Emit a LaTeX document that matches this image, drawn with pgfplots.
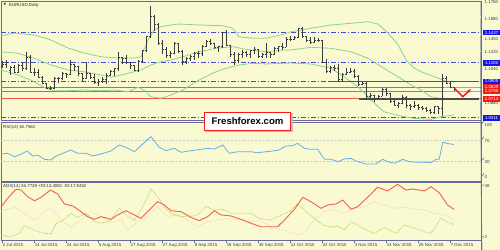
\documentclass[border=0pt]{standalone}
\usepackage{fontspec}
\setmainfont{Liberation Sans}
\newfontfamily\dejavu{DejaVu Sans}
\usepackage{pgfplots}
\pgfplotsset{compat=1.18}
\usepackage{pgfplotstable}
\usetikzlibrary{arrows.meta}

\definecolor{bg}{RGB}{250,250,210}
\definecolor{frame}{RGB}{105,105,160}
\definecolor{lvlblue}{RGB}{70,70,225}
\definecolor{boxblue}{RGB}{20,20,235}
\definecolor{lvlred}{RGB}{240,85,75}
\definecolor{boxred}{RGB}{245,25,25}
\definecolor{band}{RGB}{140,210,140}
\definecolor{barcol}{RGB}{60,60,60}
\definecolor{rsicol}{RGB}{100,175,235}
\definecolor{adxcol}{RGB}{240,95,80}
\definecolor{pdicol}{RGB}{185,205,85}
\definecolor{mdicol}{RGB}{235,215,170}
\definecolor{lbl}{RGB}{60,60,95}

\newcommand\tf{\fontsize{4.4}{5}\selectfont}

\pgfdeclareplotmark{otick}{\pgfpathmoveto{\pgfpoint{-1.5bp}{0pt}}\pgfpathlineto{\pgfpoint{0pt}{0pt}}\pgfusepathqstroke}
\pgfdeclareplotmark{ctick}{\pgfpathmoveto{\pgfpoint{0pt}{0pt}}\pgfpathlineto{\pgfpoint{1.5bp}{0pt}}\pgfusepathqstroke}

\pgfplotstableread{
i o h l c
0 1.1060 1.1120 1.1045 1.1085
1 1.1085 1.1135 1.1050 1.1110
2 1.1020 1.1070 1.0970 1.1055
3 1.1055 1.1075 1.0990 1.1005
4 1.1005 1.1090 1.0990 1.1080
5 1.1080 1.1110 1.1020 1.1040
6 1.1040 1.1215 1.1030 1.1160
7 1.1160 1.1190 1.0995 1.1005
8 1.1005 1.1045 1.0960 1.1003
9 1.1003 1.1035 1.0950 1.0950
10 1.0950 1.0960 1.0870 1.0880
11 1.0880 1.0890 1.0830 1.0830
12 1.0830 1.0855 1.0810 1.0830
13 1.0830 1.0945 1.0820 1.0935
14 1.0935 1.0945 1.0885 1.0930
15 1.0930 1.1000 1.0915 1.0985
16 1.0985 1.0990 1.0940 1.0980
17 1.0980 1.1130 1.0970 1.1085
18 1.1085 1.1095 1.1015 1.1060
19 1.1060 1.1065 1.0960 1.0990
20 1.0990 1.0995 1.0905 1.0935
21 1.0935 1.1115 1.0930 1.0985
22 1.0985 1.0990 1.0930 1.0950
23 1.0950 1.0980 1.0880 1.0890
24 1.0890 1.0930 1.0855 1.0900
25 1.0900 1.0945 1.0885 1.0925
26 1.0925 1.0990 1.0875 1.0970
27 1.0970 1.1030 1.0960 1.1015
28 1.1015 1.1050 1.0960 1.1040
29 1.1040 1.1215 1.1010 1.1160
30 1.1160 1.1165 1.1095 1.1150
31 1.1150 1.1190 1.1095 1.1105
32 1.1105 1.1115 1.1040 1.1080
33 1.1080 1.1085 1.1015 1.1025
34 1.1025 1.1130 1.1005 1.1120
35 1.1120 1.1245 1.1110 1.1240
36 1.1240 1.1390 1.1220 1.1385
37 1.1385 1.1714 1.1370 1.1610
38 1.1610 1.1615 1.1450 1.1520
39 1.1520 1.1530 1.1300 1.1315
40 1.1315 1.1345 1.1200 1.1245
41 1.1245 1.1270 1.1155 1.1185
42 1.1185 1.1230 1.1160 1.1210
43 1.1210 1.1330 1.1200 1.1315
44 1.1315 1.1320 1.1210 1.1230
45 1.1230 1.1245 1.1085 1.1115
46 1.1115 1.1165 1.1090 1.1150
47 1.1150 1.1185 1.1120 1.1170
48 1.1170 1.1225 1.1135 1.1200
49 1.1200 1.1230 1.1150 1.1205
50 1.1205 1.1300 1.1180 1.1280
51 1.1280 1.1345 1.1270 1.1340
52 1.1340 1.1365 1.1300 1.1315
53 1.1315 1.1320 1.1250 1.1265
54 1.1265 1.1290 1.1220 1.1285
55 1.1285 1.1440 1.1260 1.1430
56 1.1430 1.1460 1.1290 1.1295
57 1.1295 1.1300 1.1170 1.1195
58 1.1195 1.1225 1.1085 1.1130
59 1.1130 1.1210 1.1105 1.1190
60 1.1190 1.1240 1.1150 1.1215
61 1.1215 1.1230 1.1170 1.1195
62 1.1195 1.1240 1.1160 1.1235
63 1.1235 1.1275 1.1200 1.1250
64 1.1250 1.1255 1.1160 1.1175
65 1.1175 1.1210 1.1150 1.1195
66 1.1195 1.1315 1.1150 1.1215
67 1.1215 1.1225 1.1150 1.1195
68 1.1195 1.1270 1.1185 1.1260
69 1.1260 1.1290 1.1225 1.1280
70 1.1280 1.1320 1.1245 1.1275
71 1.1275 1.1385 1.1270 1.1360
72 1.1360 1.1390 1.1340 1.1355
73 1.1355 1.1395 1.1350 1.1375
74 1.1375 1.1480 1.1370 1.1470
75 1.1470 1.1495 1.1380 1.1385
76 1.1385 1.1395 1.1330 1.1350
77 1.1350 1.1385 1.1305 1.1320
78 1.1320 1.1380 1.1315 1.1345
79 1.1345 1.1370 1.1325 1.1345
80 1.1345 1.1355 1.1105 1.1110
81 1.1110 1.1140 1.0995 1.1015
82 1.1015 1.1065 1.0990 1.1050
83 1.1050 1.1080 1.1020 1.1045
84 1.1045 1.1095 1.0895 1.0925
85 1.0925 1.0990 1.0900 1.0980
86 1.0980 1.1045 1.0975 1.1005
87 1.1005 1.1045 1.0990 1.1015
88 1.1015 1.1035 1.0945 1.0955
89 1.0955 1.0970 1.0850 1.0865
90 1.0865 1.0910 1.0860 1.0880
91 1.0880 1.0900 1.0705 1.0740
92 1.0740 1.0780 1.0705 1.0750
93 1.0750 1.0755 1.0675 1.0720
94 1.0720 1.0760 1.0715 1.0745
95 1.0745 1.0835 1.0740 1.0815
96 1.0815 1.0830 1.0745 1.0770
97 1.0770 1.0775 1.0675 1.0685
98 1.0685 1.0715 1.0635 1.0645
99 1.0645 1.0685 1.0615 1.0660
100 1.0660 1.0760 1.0655 1.0735
101 1.0735 1.0750 1.0620 1.0645
102 1.0645 1.0655 1.0590 1.0635
103 1.0635 1.0690 1.0615 1.0645
104 1.0645 1.0655 1.0590 1.0625
105 1.0625 1.0640 1.0595 1.0610
106 1.0610 1.0625 1.0570 1.0590
107 1.0590 1.0605 1.0555 1.0565
108 1.0565 1.0640 1.0555 1.0630
109 1.0630 1.0635 1.0550 1.0610
110 1.0610 1.0985 1.0525 1.0940
111 1.0940 1.0960 1.0870 1.0880
112 1.0880 1.0905 1.0830 1.0840
113 1.0840 1.0845 1.0795 1.0820
}\bars

\pgfplotstableread{
x y
-0.25 1.1393
3 1.1425
8 1.1404
12.25 1.1350
16.5 1.1263
20.5 1.1209
24.75 1.1169
29 1.1155
33 1.1155
34.75 1.1169
36.5 1.1350
38 1.1458
39.75 1.1493
42.25 1.1512
44.25 1.1522
49.25 1.1512
55.25 1.1504
57.75 1.1476
59.25 1.1385
62.75 1.1368
66 1.1368
69.75 1.1404
72.25 1.1439
77.25 1.1476
82.25 1.1512
87.25 1.1530
91.5 1.1547
94 1.1522
96.5 1.1425
99 1.1300
101 1.1134
103 1.1047
104.75 1.1007
109 1.0939
111 1.0901
113 1.0895
}\bbup

\pgfplotstableread{
x y
-0.25 1.1223
4 1.1206
8 1.1152
12.25 1.1080
16.5 1.1026
20.5 1.1007
24.75 1.0972
27.25 1.0947
29.75 1.0972
33 1.1007
34.75 1.1026
37.25 1.1080
39.75 1.1115
42.25 1.1134
45.25 1.1169
49.25 1.1223
53.5 1.1260
57.75 1.1277
61.75 1.1242
66 1.1223
70.25 1.1242
72.25 1.1242
77.25 1.1271
82.25 1.1260
87.25 1.1223
91.5 1.1152
95.5 1.1044
99 1.0953
102.25 1.0864
104.75 1.0810
107.25 1.0737
111 1.0709
113 1.0709
}\bbmid

\pgfplotstableread{
x y
-0.25 1.1026
4 1.0972
8 1.0901
10.5 1.0839
13 1.0802
16.5 1.0802
20.5 1.0810
24.75 1.0802
28 1.0810
31.5 1.0791
34 1.0839
35.5 1.0810
37.25 1.0737
39.75 1.0720
42.25 1.0756
45.25 1.0810
49.25 1.0918
53.5 1.1007
56 1.1044
59.25 1.1080
62.75 1.1098
66 1.1091
70.25 1.1098
72.25 1.1101
77.25 1.1091
82.25 1.1044
85.5 1.0953
89 1.0845
91.5 1.0737
94 1.0629
95.5 1.0575
99.75 1.0529
103 1.0504
107.25 1.0493
109.75 1.0521
113 1.0540
}\bblow

\pgfplotstableread{
x y
-0.25 44.6
1.4 45.9
3.1 39.4
4.75 44.0
6.25 50.3
7.7 40.7
8.9 42.6
10.6 34.4
12.25 33.1
13.5 40.7
15.2 45.9
17.25 52.2
18.9 45.9
21 45.9
22.7 40.7
24.75 44.6
27.25 50.3
29.3 61.8
31 57.4
33.1 48.9
35.2 63.7
37.25 77.6
39.3 57.4
41 50.9
43.1 55.4
44.75 47.8
47.25 50.9
49.75 53.5
51.4 55.4
53.1 54.1
55.2 61.8
56.8 45.9
58.9 48.9
62.25 48.9
63.9 47.0
66 48.9
67.7 50.3
69.3 52.2
71 59.8
72.7 60.4
73.9 65.0
75.6 55.4
77.25 53.5
78.9 53.5
80.6 34.4
82.25 34.4
83.9 29.8
85.6 35.0
87.25 36.3
88.9 29.8
91 25.4
93.5 25.4
95.2 34.4
96.4 29.8
98.1 26.8
100.2 34.4
101.8 29.8
103.9 28.7
105.6 28.7
107.25 27.9
108.5 34.4
109.3 34.4
110.2 67.0
111.4 64.5
113 62.8
}\rsi

\pgfplotstableread{
x y
-0.25 28.7
1.4 36.7
3.5 44.8
4.75 44.1
6.4 38.2
8.1 34.6
9.75 37.6
12.1 44.1
13.9 40.6
15.6 31.7
17.7 29.9
19.75 24.8
21.4 20.4
23.1 18.0
24.75 20.4
27.25 18.0
28.9 21.9
31 25.7
33.1 21.9
34.75 18.9
36.8 26.3
38.9 33.7
40.6 30.8
42.25 25.7
44.75 24.8
47.25 19.8
49.3 16.8
51.4 20.4
53.1 25.7
54.75 21.9
57.25 21.0
59.75 18.0
62.25 14.5
64.75 11.4
68.9 11.4
70.6 17.4
73.1 27.0
75.2 37.6
77.25 33.7
79.75 27.8
81.4 30.8
83.5 31.7
85.2 35.2
87.25 27.0
88.9 29.3
91.4 37.6
93.9 46.6
96.4 43.3
98.9 49.2
101 44.1
102.7 45.0
105.6 43.3
107.25 47.1
109.3 41.7
111.4 30.8
113 26.8
}\adx

\pgfplotstableread{
x y
-0.25 4.0
2.25 2.5
4.3 5.6
5.6 12.1
7.7 9.1
9.75 6.1
12.25 4.9
13.5 14.5
15.2 16.8
17.25 23.4
18.9 19.8
21 23.4
23.1 15.9
25.2 14.5
27.25 17.4
29.3 27.8
31 21.9
33.1 17.4
35.2 29.3
37.25 45.0
38.9 38.2
40.6 28.7
42.25 23.4
44.75 20.4
47.7 21.0
48.9 21.9
51 29.3
53.1 26.3
55.2 27.0
57.25 23.4
59.75 23.4
62.25 23.4
64.3 18.9
67.25 17.4
69.75 21.9
71.8 24.8
73.9 31.7
75.6 26.3
78.1 18.9
80.2 13.0
82.25 10.9
83.9 12.1
85.6 8.5
87.25 15.9
88.9 13.0
91 8.5
93.1 5.6
95.6 10.9
98.5 5.6
100.6 13.0
103.1 10.0
105.6 7.0
107.25 5.6
108.5 12.1
109.75 18.9
111 15.9
113 13.4
}\pdi

\pgfplotstableread{
x y
-0.25 24.8
3.1 28.7
5.6 23.4
8.1 17.4
10.6 24.8
12.25 28.7
14.75 17.4
17.25 10.9
19.75 17.4
22.25 24.8
24.75 20.4
27.25 15.0
29.75 17.4
31.4 8.5
33.9 15.9
36.4 20.4
38.9 29.3
41.4 20.4
43.9 21.9
46.4 17.4
48.9 11.4
51.4 15.9
53.9 17.4
56.4 18.9
59.75 17.4
62.25 15.9
64.75 17.4
67.25 10.0
70.6 8.5
73.9 4.0
75.6 5.6
77.25 14.5
80.6 24.8
82.25 27.0
85.6 23.4
88.1 27.8
90.6 29.3
93.1 33.7
95.6 30.8
98.1 27.8
100.6 28.7
103.1 27.0
105.6 26.3
108.1 23.4
110.6 21.9
113 17.8
}\mdi

\newcommand\plbl[2][0bp]{\draw[frame, line width=0.6bp] (axis cs:119.75,#2) -- ++(2bp,0);
  \node[anchor=west, inner sep=0pt, font=\tf, text=lbl] at ([xshift=3.5bp,yshift=#1]axis cs:119.75,#2) {#2};}
\newcommand\blbl[3]{\node[anchor=west, inner sep=0pt, fill=#2, text=white, font=\tf, minimum height=5.6bp, minimum width=17.5bp] at ([xshift=1.6bp]axis cs:119.75,#1) {#3};}

\begin{document}
\begin{tikzpicture}
\useasboundingbox (0,0) rectangle (500bp,-250bp);
\fill[bg] (0,0) rectangle (500bp,-250bp);

% ---------------- main price panel
\begin{axis}[at={(1bp,-1bp)}, anchor=north west, scale only axis,
  width=480bp, height=119.5bp,
  xmin=-0.25, xmax=119.75, ymin=1.04802, ymax=1.17708,
  axis line style={draw=frame, line width=1bp}, ticks=none, clip=false]
  % level lines
  \draw[lvlblue, line width=0.8bp, dash pattern=on 5bp off 2bp on 1bp off 2bp] (axis cs:-0.25,1.1430) -- (axis cs:119.75,1.1430);
  \draw[lvlblue, line width=0.8bp, dash pattern=on 5bp off 2bp on 1bp off 2bp] (axis cs:-0.25,1.1103) -- (axis cs:119.75,1.1103);
  \draw[lvlblue, line width=0.8bp, dash pattern=on 5bp off 2bp on 1bp off 2bp] (axis cs:-0.25,1.0902) -- (axis cs:119.75,1.0902);
  \draw[lvlblue, line width=0.8bp, dash pattern=on 5bp off 2bp on 1bp off 2bp] (axis cs:-0.25,1.0509) -- (axis cs:119.75,1.0509);
  \draw[lvlred, line width=0.9bp] (axis cs:-0.25,1.0839) -- (axis cs:119.75,1.0839);
  \draw[lvlred, line width=0.9bp] (axis cs:-0.25,1.0795) -- (axis cs:119.75,1.0795);
  \draw[lvlred, line width=0.9bp] (axis cs:-0.25,1.0714) -- (axis cs:119.75,1.0714);
  \fill[white, opacity=0.3] (axis cs:110.5,1.0714) rectangle (axis cs:119.5,1.0902);
  % bollinger bands
  \addplot[band, line width=0.8bp, mark=none] table[x=x,y=y] {\bbup};
  \addplot[band, line width=0.8bp, mark=none] table[x=x,y=y] {\bbmid};
  \addplot[band, line width=0.8bp, mark=none] table[x=x,y=y] {\bblow};
  % support lines
  \draw[black!70, line width=1.1bp] (axis cs:81.5,1.0902) -- (axis cs:119.25,1.0902);
  \draw[green!65!black, line width=0.8bp, dash pattern=on 0.8bp off 1.2bp] (axis cs:81.5,1.0902) -- (axis cs:119.25,1.0902);
  \draw[black!70, line width=1.1bp] (axis cs:89.25,1.0713) -- (axis cs:119.25,1.0713);
  % OHLC bars
  \addplot[barcol, only marks, mark=ctick, mark options={barcol, line width=0.8bp},
    error bars/.cd, y dir=both, y explicit, error mark=none,
    error bar style={barcol, line width=0.9bp}]
    table[x=i, y=c, y error plus expr={\thisrow{h}-\thisrow{c}}, y error minus expr={\thisrow{c}-\thisrow{l}}] {\bars};
  \addplot[barcol, only marks, mark=otick, mark options={barcol, line width=0.8bp}] table[x=i, y=o] {\bars};
  % forecast arrow
  \draw[boxred, line width=1.5bp, -{Stealth[length=3.5bp,width=3.5bp]}] (axis cs:113.1,1.0828) -- (axis cs:115.2,1.0737) -- (axis cs:117.2,1.0818);
  % price scale
  \plbl{1.1760}\plbl{1.1580}\plbl[-3.3bp]{1.1400}\plbl{1.1220}\plbl{1.1040}\plbl[-0.8bp]{1.0680}
  \blbl{1.1430}{boxblue}{1.1437}
  \blbl{1.1103}{boxblue}{1.1106}
  \blbl{1.0902}{boxblue}{1.0905}
  \blbl{1.0839}{boxred}{1.0839}
  \blbl{1.0795}{boxred}{1.0795}
  \blbl{1.0714}{boxred}{1.0714}
  \blbl{1.0509}{boxblue}{1.0511}
  \node[anchor=north west, inner sep=0pt, font=\fontsize{3.3}{4}\selectfont\dejavu, text=black!80] at ([xshift=2.5bp,yshift=-2.6bp]rel axis cs:0,1) {▼};
  \node[anchor=north west, inner sep=0pt, font=\tf, text=black!85] at ([xshift=8bp,yshift=-2.3bp]rel axis cs:0,1) {EURUSD,Daily};
\end{axis}

% ---------------- RSI panel
\begin{axis}[at={(1bp,-122bp)}, anchor=north west, scale only axis,
  width=480bp, height=59.3bp,
  xmin=-0.25, xmax=119.75, ymin=-7.65, ymax=105.7,
  axis line style={draw=frame, line width=1bp}, ticks=none, clip=false]
  \draw[black!25, line width=0.6bp, dash pattern=on 1.2bp off 1.2bp] (axis cs:-0.25,70) -- (axis cs:119.75,70);
  \draw[black!25, line width=0.6bp, dash pattern=on 1.2bp off 1.2bp] (axis cs:-0.25,30) -- (axis cs:119.75,30);
  \addplot[rsicol, line width=0.8bp, mark=none] table[x=x,y=y] {\rsi};
  \plbl{100}\plbl{70}\plbl{30}\plbl{0}
  \node[anchor=north west, inner sep=0pt, font=\tf, text=black!80] at ([xshift=2bp,yshift=-3bp]rel axis cs:0,1) {RSI(14) 62.7562};
\end{axis}

% ---------------- ADX panel
\begin{axis}[at={(1bp,-182.3bp)}, anchor=north west, scale only axis,
  width=480bp, height=58.2bp,
  xmin=-0.25, xmax=119.75, ymin=-0.85, ymax=51.0,
  axis line style={draw=frame, line width=1bp}, clip=false,
  ytick=\empty, xtick={0,8,...,112},
  xticklabels={2 Jul 2015,14 Jul 2015,24 Jul 2015,5 Aug 2015,17 Aug 2015,27 Aug 2015,8 Sep 2015,18 Sep 2015,30 Sep 2015,12 Oct 2015,22 Oct 2015,3 Nov 2015,13 Nov 2015,25 Nov 2015,7 Dec 2015},
  xtick pos=bottom, tick align=outside, major tick length=2.5bp,
  x tick style={draw=frame, line width=0.6bp},
  xticklabel style={font=\tf, text=lbl, anchor=north west, inner sep=0pt, xshift=0.6bp, yshift=-0.5bp}]
  \addplot[mdicol, line width=0.8bp, mark=none, dash pattern=on 1bp off 1bp] table[x=x,y=y] {\mdi};
  \addplot[pdicol, line width=0.8bp, mark=none, dash pattern=on 1bp off 1bp] table[x=x,y=y] {\pdi};
  \addplot[adxcol, line width=0.9bp, mark=none] table[x=x,y=y] {\adx};
  \plbl{48}\plbl{2}
  \node[anchor=north west, inner sep=0pt, font=\tf, text=black!80] at ([xshift=2bp,yshift=-2bp]rel axis cs:0,1) {ADX(14) 26.7728 +DI:13.4081 -DI:17.8452};
\end{axis}

% watermark
\fill[black!25] (205bp,-113.3bp) rectangle (292.5bp,-132.2bp);
\node[draw=boxred, line width=1.3bp, fill=white, minimum width=86bp, minimum height=18bp, inner sep=0pt,
  font=\fontsize{9.6}{10}\selectfont\bfseries] at (247.5bp,-121.5bp) {Freshforex.com};
\end{tikzpicture}
\end{document}
